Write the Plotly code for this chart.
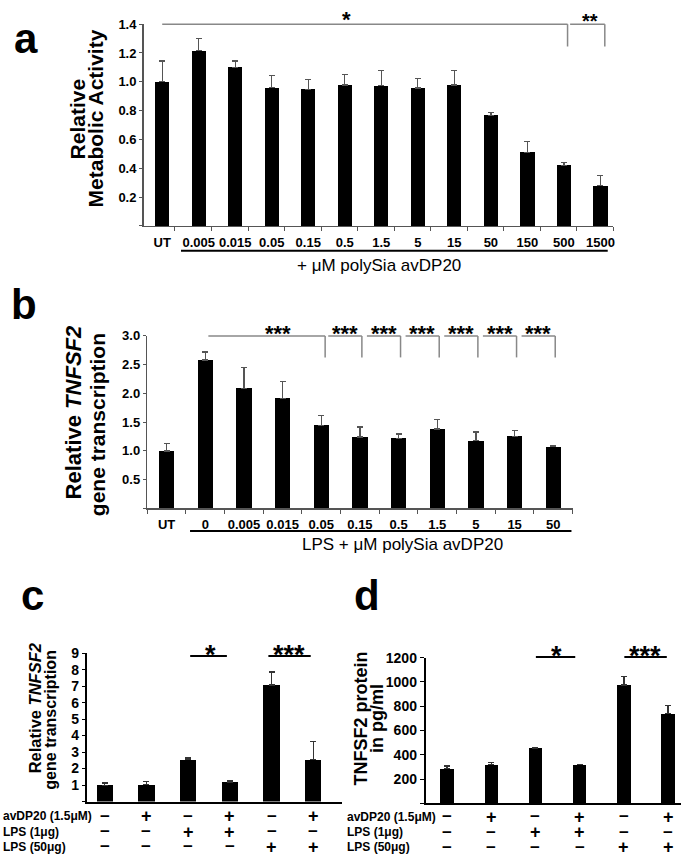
import plotly.graph_objects as go

W, H = 685, 858
F = "Liberation Sans, Arial, Helvetica, sans-serif"

# ---------------- data ----------------
a_labels = ["UT", "0.005", "0.015", "0.05", "0.15", "0.5", "1.5", "5", "15", "50", "150", "500", "1500"]
a_values = [1.00, 1.215, 1.10, 0.96, 0.948, 0.977, 0.972, 0.958, 0.977, 0.768, 0.51, 0.421, 0.28]
a_err_top = [1.145, 1.30, 1.145, 1.045, 1.018, 1.05, 1.076, 1.023, 1.08, 0.788, 0.584, 0.439, 0.349]

b_labels = ["UT", "0", "0.005", "0.015", "0.05", "0.15", "0.5", "1.5", "5", "15", "50"]
b_values = [0.995, 2.58, 2.09, 1.915, 1.445, 1.24, 1.218, 1.378, 1.177, 1.25, 1.075]
b_err_top = [1.13, 2.72, 2.45, 2.205, 1.62, 1.415, 1.295, 1.54, 1.33, 1.348, 1.097]

cd_rows = ["avDP20 (1.5μM)", "LPS (1μg)", "LPS (50μg)"]
cd_signs = [["−", "+", "−", "+", "−", "+"],
            ["−", "−", "+", "+", "−", "−"],
            ["−", "−", "−", "−", "+", "+"]]
c_values = [0.98, 1.02, 2.54, 1.18, 7.06, 2.54]
c_err_top = [1.12, 1.20, 2.64, 1.26, 7.86, 3.62]
d_values = [286, 319, 453, 317, 976, 738]
d_err_top = [307, 338, 460, 322, 1043, 804]

a_yticks = [0, 0.2, 0.4, 0.6, 0.8, 1.0, 1.2, 1.4]
b_yticks = [0, 0.5, 1.0, 1.5, 2.0, 2.5, 3.0]
c_yticks = [0, 1, 2, 3, 4, 5, 6, 7, 8, 9]
d_yticks = [0, 200, 400, 600, 800, 1000, 1200]

# ---------------- geometry (pixels) ----------------
P = {
    "a": dict(x0=144, x1=615, xr=(-0.51, 12.35), yb=220, yt=16.3, yr=(0, 1.4)),
    "b": dict(x0=147.7, x1=574.3, xr=(-0.5, 10.5), yb=505, yt=331, yr=(0, 3.0)),
    "c": dict(x0=87, x1=343, xr=(-0.43, 5.69), yb=801, yt=651.2, yr=(0, 9)),
    "d": dict(x0=427, x1=682.5, xr=(-0.48, 5.28), yb=802.8, yt=655.8, yr=(0, 1200)),
}


def xp(p, i):
    g = P[p]
    return (g["x0"] + (i - g["xr"][0]) / (g["xr"][1] - g["xr"][0]) * (g["x1"] - g["x0"])) / W


def yp(p, v):
    g = P[p]
    return 1 - (g["yb"] - (v - g["yr"][0]) / (g["yr"][1] - g["yr"][0]) * (g["yb"] - g["yt"])) / H


def pyp(y):
    return 1 - y / H


def pxp(x):
    return x / W


fig = go.Figure()


def add_bars(ax, vals, tops, width, errcolor):
    n = len(vals)
    fig.add_trace(go.Bar(
        x=list(range(n)), y=vals, width=width,
        marker=dict(color="black", line=dict(width=0)),
        error_y=dict(type="data", symmetric=False,
                     array=[t - v for t, v in zip(tops, vals)],
                     arrayminus=[0] * n, color=errcolor, thickness=1.3, width=3),
        xaxis="x" + ax, yaxis="y" + ax, showlegend=False, hoverinfo="skip"))


add_bars("", a_values, a_err_top, 0.39, "#555")
add_bars("2", b_values, b_err_top, 0.40, "#555")
add_bars("3", c_values, c_err_top, 0.39, "#333")
add_bars("4", d_values, d_err_top, 0.30, "#333")


def dom(p):
    g = P[p]
    return [g["x0"] / W, g["x1"] / W], [1 - g["yb"] / H, 1 - g["yt"] / H]


def fmt(v):
    return "" if v == 0 else f"<b>{v}</b>"


layout_axes = {}
# panel a
xd, yd = dom("a")
layout_axes["xaxis"] = dict(
    domain=xd, range=list(P["a"]["xr"]), anchor="y",
    tickmode="array", tickvals=list(range(len(a_labels))),
    ticktext=[f"<b>{l}</b>" for l in a_labels],
    ticks="outside", ticklen=4, tickcolor="rgba(0,0,0,0)",
    tickfont=dict(size=13, color="black", family=F),
    showline=True, linecolor="#555", linewidth=1.5, showgrid=False, zeroline=False,
    minor=dict(tickmode="array", tickvals=[i + 0.35 for i in range(len(a_labels))],
               ticks="outside", ticklen=4, tickcolor="#555", tickwidth=1, showgrid=False))
layout_axes["yaxis"] = dict(
    domain=yd, range=list(P["a"]["yr"]), anchor="x",
    tickmode="array", tickvals=a_yticks, ticktext=["" if v == 0 else f"<b>{v:.1f}</b>" for v in a_yticks],
    ticks="outside", ticklen=3, tickcolor="#555",
    tickfont=dict(size=13, color="black", family=F),
    showline=True, linecolor="#555", linewidth=1.5, showgrid=False, zeroline=False)
# panel b
xd, yd = dom("b")
layout_axes["xaxis2"] = dict(
    domain=xd, range=list(P["b"]["xr"]), anchor="y2",
    tickmode="array", tickvals=list(range(len(b_labels))),
    ticktext=[f"<b>{l}</b>" for l in b_labels],
    ticks="outside", ticklen=4, tickcolor="rgba(0,0,0,0)",
    tickfont=dict(size=13, color="black", family=F),
    showline=True, linecolor="#555", linewidth=1.5, showgrid=False, zeroline=False,
    minor=dict(tickmode="array", tickvals=[i - 0.5 for i in range(len(b_labels) + 1)],
               ticks="outside", ticklen=4, tickcolor="#555", tickwidth=1, showgrid=False))
layout_axes["yaxis2"] = dict(
    domain=yd, range=list(P["b"]["yr"]), anchor="x2",
    tickmode="array", tickvals=b_yticks, ticktext=["" if v == 0 else f"<b>{v:.1f}</b>" for v in b_yticks],
    ticks="outside", ticklen=3, tickcolor="#555",
    tickfont=dict(size=13, color="black", family=F),
    showline=True, linecolor="#555", linewidth=1.5, showgrid=False, zeroline=False)
# panel c
xd, yd = dom("c")
layout_axes["xaxis3"] = dict(
    domain=xd, range=list(P["c"]["xr"]), anchor="y3", showticklabels=False, ticks="",
    showline=True, linecolor="black", linewidth=2, showgrid=False, zeroline=False)
layout_axes["yaxis3"] = dict(
    domain=yd, range=list(P["c"]["yr"]), anchor="x3",
    tickmode="array", tickvals=c_yticks, ticktext=[fmt(v) for v in c_yticks],
    ticks="outside", ticklen=3, tickcolor="black",
    tickfont=dict(size=14, color="black", family=F),
    showline=True, linecolor="black", linewidth=2, showgrid=False, zeroline=False)
# panel d
xd, yd = dom("d")
layout_axes["xaxis4"] = dict(
    domain=xd, range=list(P["d"]["xr"]), anchor="y4", showticklabels=False, ticks="",
    showline=True, linecolor="black", linewidth=2, showgrid=False, zeroline=False)
layout_axes["yaxis4"] = dict(
    domain=yd, range=list(P["d"]["yr"]), anchor="x4",
    tickmode="array", tickvals=d_yticks, ticktext=[fmt(v) for v in d_yticks],
    ticks="outside", ticklen=4, tickcolor="black",
    tickfont=dict(size=14, color="black", family=F),
    showline=True, linecolor="black", linewidth=2, showgrid=False, zeroline=False)

shapes = []
annots = []


def line(x0, y0, x1, y1, color, w):
    shapes.append(dict(type="line", xref="paper", yref="paper", x0=x0, y0=y0, x1=x1, y1=y1,
                       line=dict(color=color, width=w), layer="above"))


def text(x, y, s, size, bold=True, angle=0, xanchor="center", color="black"):
    annots.append(dict(x=x, y=y, xref="paper", yref="paper", text=(f"<b>{s}</b>" if bold else s),
                       showarrow=False, xanchor=xanchor, yanchor="middle", textangle=angle,
                       borderpad=0, font=dict(family=F, size=size, color=color)))


GR = "#888"
# ---- panel a decorations ----
line(xp("a", 0), yp("a", 1.4), xp("a", 11.1), yp("a", 1.4), GR, 1.5)
line(xp("a", 11.1), yp("a", 1.4), xp("a", 11.1), yp("a", 1.245), GR, 1.5)
line(xp("a", 11.17), yp("a", 1.4), xp("a", 12.12), yp("a", 1.4), GR, 1.5)
line(xp("a", 12.12), yp("a", 1.4), xp("a", 12.12), yp("a", 1.245), GR, 1.5)
text(pxp(348), pyp(12), "*", 22)
text(pxp(591.7), pyp(13.6), "**", 20)
line(xp("a", 0.515), pyp(245), xp("a", 12.2), pyp(245), "black", 2)
text(pxp(380), pyp(260), "+ μM polySia avDP20", 17, bold=False)
text(pxp(26), pyp(31), "a", 42)
text(pxp(77.7), pyp(112), "Relative", 21, angle=-90)
text(pxp(96.7), pyp(111), "Metabolic Activity", 21, angle=-90)

# ---- panel b decorations ----
top_b, leg_b = 3.0, 2.626
line(xp("b", 1.08), yp("b", top_b), xp("b", 4.1), yp("b", top_b), GR, 1.5)
line(xp("b", 4.1), yp("b", top_b), xp("b", 4.1), yp("b", leg_b), GR, 1.5)
text(xp("b", 2.88), pyp(328.5), "***", 22)
for k in range(4, 10):
    s, e = k + 0.18, k + 1.05
    line(xp("b", s), yp("b", top_b), xp("b", e), yp("b", top_b), GR, 1.5)
    line(xp("b", e), yp("b", top_b), xp("b", e), yp("b", leg_b), GR, 1.5)
    text(xp("b", (s + e) / 2), pyp(328.5), "***", 22)
line(xp("b", 0.606), pyp(528), xp("b", 10.47), pyp(528), "black", 2)
text(pxp(403.5), pyp(542), "LPS + μM polySia avDP20", 17, bold=False)
text(pxp(24), pyp(299), "b", 42)
text(pxp(73.9), pyp(408.5), "Relative <i>TNFSF2</i>", 22, angle=-90)
text(pxp(97.4), pyp(421), "gene transcription", 21, angle=-90)

# ---- panel c decorations ----
line(xp("c", 2.05), pyp(654), xp("c", 2.93), pyp(654), "black", 2)
line(xp("c", 3.925), pyp(654), xp("c", 4.94), pyp(654), "black", 2)
text(xp("c", 2.53), pyp(652.9), "*", 27)
text(xp("c", 4.43), pyp(652.9), "***", 27)
text(pxp(32.5), pyp(593), "c", 42)
text(pxp(36), pyp(707), "Relative <i>TNFSF2</i>", 16.5, angle=-90)
text(pxp(50.5), pyp(718), "gene transcription", 16, angle=-90)

# ---- panel d decorations ----
line(xp("d", 2.01), pyp(655), xp("d", 2.9), pyp(655), "black", 2)
line(xp("d", 4.01), pyp(655), xp("d", 4.97), pyp(655), "black", 2)
text(xp("d", 2.48), pyp(654.5), "*", 27)
text(xp("d", 4.48), pyp(654.5), "***", 27)
text(pxp(368), pyp(593), "d", 42)
text(pxp(361.8), pyp(717.5), "TNFSF2 protein", 18, angle=-90)
text(pxp(378.8), pyp(717), "in pg/ml", 18, angle=-90)

# ---- condition tables ----
row_y = [816, 831.5, 846.5]
for r, name in enumerate(cd_rows):
    text(pxp(2), pyp(row_y[r]), name, 12, xanchor="left")
    text(pxp(346.7), pyp(row_y[r] + 0.5), name, 12, xanchor="left")
    for j, s in enumerate(cd_signs[r]):
        size = 18 if s == "+" else 17
        text(xp("c", j), pyp(row_y[r]), s, size)
        text(xp("d", j), pyp(row_y[r] + 0.5), s, size)

fig.update_layout(
    width=W, height=H, autosize=False,
    margin=dict(l=0, r=0, t=0, b=0),
    paper_bgcolor="white", plot_bgcolor="white",
    font=dict(family=F, color="black"),
    bargap=0, showlegend=False,
    shapes=shapes, annotations=annots,
    **layout_axes)

fig.write_html(
    "out.html",
    config={"displayModeBar": False, "staticPlot": True},
    post_script="document.body.style.margin='0';document.body.style.padding='0';"
                "document.documentElement.style.overflow='hidden';document.body.style.overflow='hidden';")
